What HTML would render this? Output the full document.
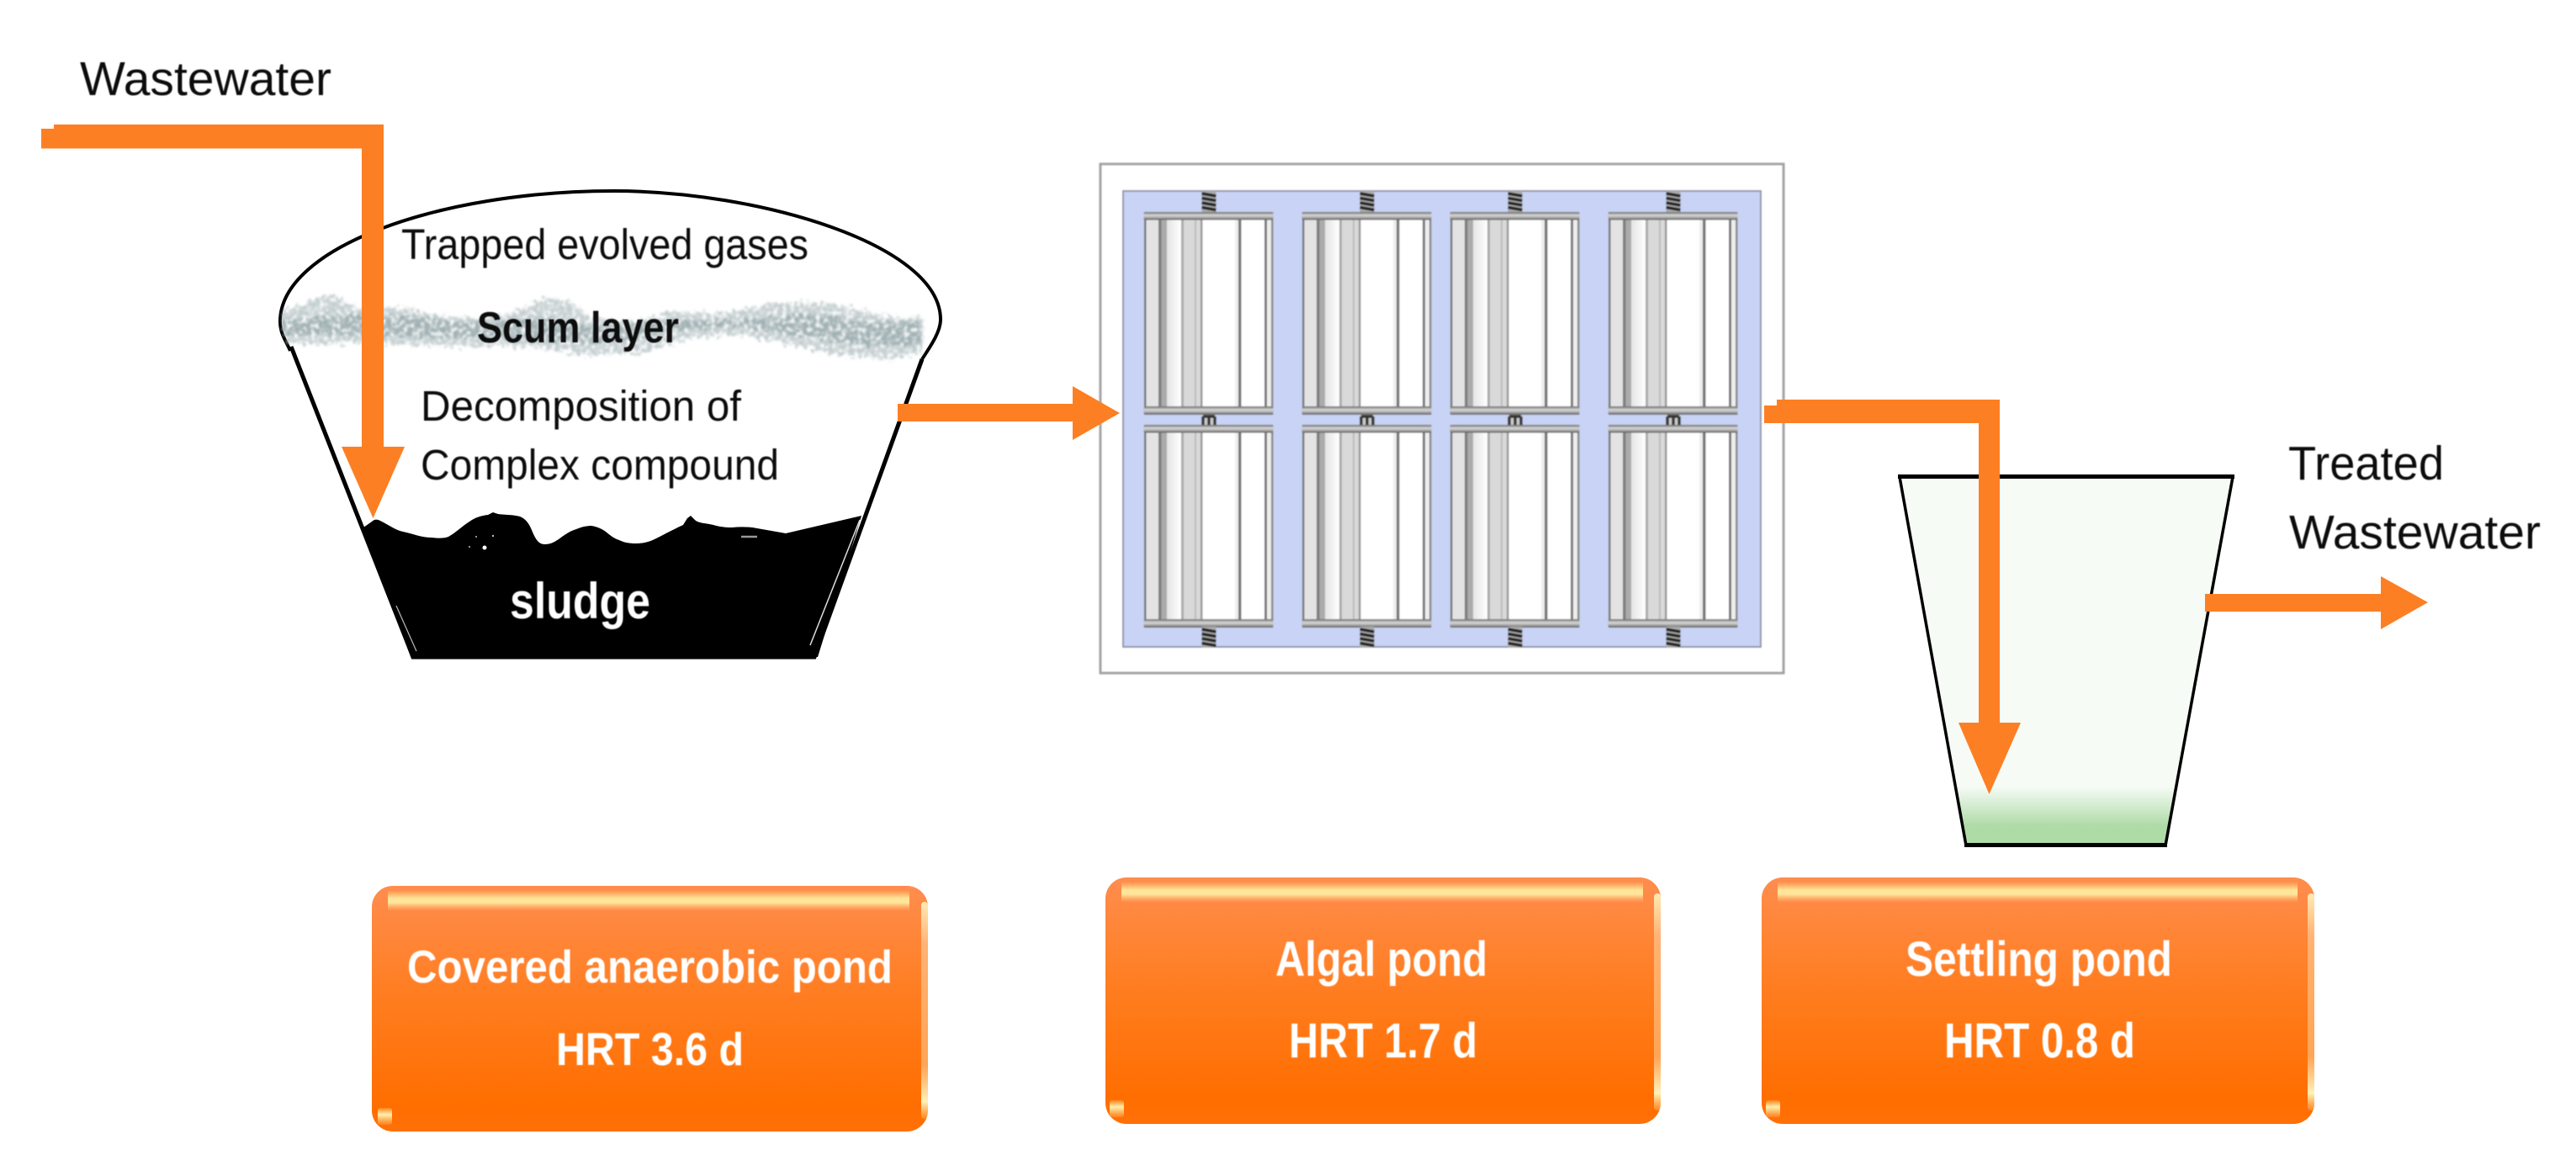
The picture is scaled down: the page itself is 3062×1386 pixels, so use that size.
<!DOCTYPE html>
<html><head><meta charset="utf-8"><style>
html,body{margin:0;padding:0;background:#fff;width:3062px;height:1386px;overflow:hidden}
svg{display:block}
text{font-family:"Liberation Sans",sans-serif;fill:#111}
.b{font-weight:bold}
.w{fill:#fff;font-weight:bold}
</style></head><body>
<svg width="3062" height="1386" viewBox="0 0 3062 1386" xmlns="http://www.w3.org/2000/svg">
<defs>
<linearGradient id="bx" x1="0" y1="0" x2="0" y2="1"><stop offset="0" stop-color="#ff8d4e"/><stop offset=".45" stop-color="#ff7d20"/><stop offset=".9" stop-color="#ff6e00"/><stop offset="1" stop-color="#ff7008"/></linearGradient>
<linearGradient id="hl" x1="0" y1="0" x2="0" y2="1"><stop offset="0" stop-color="#ffe08a" stop-opacity="0"/><stop offset=".4" stop-color="#ffe59a"/><stop offset=".6" stop-color="#ffe59a"/><stop offset="1" stop-color="#ffc080" stop-opacity="0"/></linearGradient>
<linearGradient id="hr" x1="0" y1="0" x2="0" y2="1"><stop offset="0" stop-color="#fff0b8" stop-opacity=".95"/><stop offset=".2" stop-color="#ffe0b0" stop-opacity=".5"/><stop offset=".75" stop-color="#ffe0b0" stop-opacity=".45"/><stop offset=".92" stop-color="#fff2b8" stop-opacity="1"/><stop offset="1" stop-color="#ffe7a0" stop-opacity=".2"/></linearGradient>
<linearGradient id="hb" x1="0" y1="0" x2="0" y2="1"><stop offset="0" stop-color="#ffeea8" stop-opacity=".2"/><stop offset=".4" stop-color="#fff2b0"/><stop offset="1" stop-color="#ffd080" stop-opacity=".2"/></linearGradient>
<linearGradient id="gr" gradientUnits="userSpaceOnUse" x1="0" y1="935" x2="0" y2="982"><stop offset="0" stop-color="#f6fbf6"/><stop offset="1" stop-color="#afdba7"/></linearGradient>
<linearGradient id="bar" x1="0" y1="0" x2="0" y2="1"><stop offset="0" stop-color="#666"/><stop offset=".4" stop-color="#d8d8d8"/><stop offset=".7" stop-color="#aaa"/><stop offset="1" stop-color="#555"/></linearGradient>
<linearGradient id="fd" x1="0" y1="0" x2="1" y2="0"><stop offset="0" stop-color="#e4e4e4"/><stop offset="1" stop-color="#fff"/></linearGradient>
<filter id="sc" x="-5%" y="-30%" width="110%" height="160%">
<feTurbulence type="fractalNoise" baseFrequency="0.2" numOctaves="3" seed="4" result="n"/>
<feDisplacementMap in="SourceGraphic" in2="n" scale="18" xChannelSelector="R" yChannelSelector="G" result="d"/>
<feColorMatrix in="n" type="matrix" values="0 0 0 0 0  0 0 0 0 0  0 0 0 0 0  3.2 0 0 0 -0.8" result="a"/>
<feComposite in="d" in2="a" operator="in" result="c"/>
<feGaussianBlur in="c" stdDeviation="1.3"/>
</filter>
<filter id="soft" x="-2%" y="-2%" width="104%" height="104%"><feGaussianBlur stdDeviation="0.8"/></filter>
<filter id="st" x="-5%" y="-20%" width="110%" height="140%"><feGaussianBlur stdDeviation="0.6"/></filter>
<g id="coil"><rect x="-8.5" y="0" width="17" height="25" fill="#aaa"/>
<path d="M-8.500,3 L8.500,6 M-8.500,8.500 L8.500,11.500 M-8.500,14 L8.500,17 M-8.500,19.500 L8.500,22.500" stroke="#222" stroke-width="3.500"/></g>
<g id="mid"><rect x="-8.5" y="0" width="17" height="12" fill="#ccc"/><path d="M-7,2 L7,2 M-7,2 V12 M0,2 V12 M7,2 V12" stroke="#333" stroke-width="3.500" fill="none"/></g>
<g id="u">
<rect x="0" y="0" width="153" height="241" fill="#fff"/>
<rect x="1" y="0" width="16" height="241" fill="#e3e3e3"/>
<rect x="27" y="0" width="17" height="241" fill="url(#fd)"/>
<rect x="17" y="0" width="3.5" height="241" fill="#808080"/>
<rect x="20.5" y="0" width="6.5" height="241" fill="#ababab"/>
<rect x="44" y="0" width="3" height="241" fill="#aaa"/>
<rect x="47" y="0" width="21" height="241" fill="#d9d9d9"/>
<rect x="60" y="0" width="2" height="241" fill="#bbb"/>
<rect x="67" y="0" width="2.5" height="241" fill="#999"/>
<rect x="108" y="0" width="4" height="241" fill="#eee"/>
<rect x="112" y="0" width="3.5" height="241" fill="#777"/>
<rect x="143" y="0" width="3" height="241" fill="#777"/>
<rect x="146" y="0" width="6" height="241" fill="#eee"/>
<rect x="0" y="0" width="2.5" height="241" fill="#777"/>
<rect x="151" y="0" width="2.5" height="241" fill="#888"/>
<rect x="-0.5" y="0" width="154" height="9.500" rx="2" fill="url(#bar)"/>
<rect x="-0.5" y="231" width="154" height="10" rx="2" fill="url(#bar)"/>
</g>
</defs>
<rect width="3062" height="1386" fill="#fff"/>

<!-- anaerobic pond -->
<path d="M432,627 L442,620 C445,617 448,617 452,619 C462,624 470,630 479,632 C490,634 500,639 513,639 C522,640 528,640 533,638 C542,633 550,625 558,620 C565,615 572,613 580,612 L586,609 L592,611 C600,612 612,612 618,614 C626,617 630,625 632,630 C636,640 640,647 647,647 C654,647 658,645 664,641 C672,635 678,631 685,629 C692,626 698,625 703,625 C710,626 716,629 720,632 C726,637 730,640 736,642 C742,645 748,646 756,646 C765,646 772,644 780,640 C792,634 803,628 812,624 L817,616 L821,613 L826,618 C830,622 840,622 848,624 C855,626 862,627 870,627 C880,626 890,626 900,628 L934,634 L1024,613 L972,781 L489,783 Z" fill="#000"/>
<path d="M1022,618 L963,767" stroke="#ddd" stroke-width="1.500" fill="none"/>
<path d="M471,720 L495,774" stroke="#bbb" stroke-width="1.200" fill="none"/>
<path d="M881,638 H900" stroke="#999" stroke-width="2.500" fill="none"/>
<circle cx="576" cy="651" r="2.500" fill="#fff"/><circle cx="586" cy="637" r="1.200" fill="#bbb"/><circle cx="566" cy="638" r="1" fill="#bbb"/><circle cx="558" cy="650" r="1" fill="#bbb"/>
<path d="M345,417 C340,405 333,397 333,382 C333,295 520,227 730,227 C900,227 1118,290 1118,380 C1118,395 1105,413 1096,427" fill="none" stroke="#000" stroke-width="4"/>
<path d="M346,412 L491,781 L968,781 L1096,427" fill="none" stroke="#000" stroke-width="5"/>
<g filter="url(#sc)" fill="#93a5aa">
<path opacity=".55" d="M333,372 L375,355 L395,350 L425,366 L480,366 L530,376 L570,378 L610,372 L650,353 L680,360 L700,376 L760,383 L800,370 L860,373 L920,360 L980,360 L1030,370 L1065,378 L1097,376 L1097,420 L1060,427 L1000,422 L950,412 L880,397 L820,402 L760,420 L700,422 L640,414 L600,410 L540,412 L480,410 L425,407 L380,410 L340,407 Z"/>
<path opacity=".75" d="M335,382 L400,375 L480,375 L560,384 L640,378 L720,390 L800,380 L880,382 L960,372 L1040,384 L1096,382 L1096,412 L1040,412 L960,400 L880,388 L800,392 L720,408 L640,404 L560,402 L480,400 L400,398 L340,398 Z"/>
</g>

<g filter="url(#st)">
<text x="95" y="113" font-size="57" textLength="299" lengthAdjust="spacingAndGlyphs">Wastewater</text>
<text x="477" y="308" font-size="51" textLength="484" lengthAdjust="spacingAndGlyphs">Trapped evolved gases</text>
<text x="567" y="407" font-size="52" class="b" textLength="240" lengthAdjust="spacingAndGlyphs">Scum layer</text>
<text x="500" y="500" font-size="51" textLength="381" lengthAdjust="spacingAndGlyphs">Decomposition of</text>
<text x="500" y="570" font-size="51" textLength="426" lengthAdjust="spacingAndGlyphs">Complex compound</text>
<text x="606" y="735" font-size="60" class="w" textLength="167" lengthAdjust="spacingAndGlyphs">sludge</text>
</g>

<!-- algal pond -->
<g filter="url(#soft)">
<rect x="1308" y="195" width="812" height="605" fill="#fff" stroke="#a0a0a0" stroke-width="3"/>
<rect x="1335" y="227" width="758" height="542" fill="#c8d3f5" stroke="#8d93a5" stroke-width="2"/>
<use href="#u" x="1360" y="252"/><use href="#u" x="1548" y="252"/><use href="#u" x="1724" y="252"/><use href="#u" x="1912" y="252"/>
<use href="#u" x="1360" y="505"/><use href="#u" x="1548" y="505"/><use href="#u" x="1724" y="505"/><use href="#u" x="1912" y="505"/>
<use href="#coil" x="1437" y="227"/><use href="#coil" x="1625" y="227"/><use href="#coil" x="1801" y="227"/><use href="#coil" x="1989" y="227"/>
<use href="#mid" x="1437" y="493"/><use href="#mid" x="1625" y="493"/><use href="#mid" x="1801" y="493"/><use href="#mid" x="1989" y="493"/>
<use href="#coil" x="1437" y="745"/><use href="#coil" x="1625" y="745"/><use href="#coil" x="1801" y="745"/><use href="#coil" x="1989" y="745"/>
</g>

<!-- settling pond -->
<path d="M2258,567 L2654,567 L2574,1005 L2337,1005 Z" fill="url(#gr)"/>
<path d="M2258,567 L2337,1005 L2574,1005 L2654,567" fill="none" stroke="#000" stroke-width="3.5"/>
<rect x="2256" y="564" width="400" height="5" fill="#000"/>
<rect x="2335" y="1002" width="241" height="5" fill="#000"/>
<g filter="url(#st)">
<text x="2720" y="570" font-size="57" textLength="185" lengthAdjust="spacingAndGlyphs">Treated</text>
<text x="2721" y="652" font-size="57" textLength="299" lengthAdjust="spacingAndGlyphs">Wastewater</text>
</g>

<!-- arrows -->
<g fill="#fd7f23">
<path d="M49,153 H64 V148 H456 V531 H481 L443.5,616 L406,531 H430 V176.500 H49 Z"/>
<path d="M1067,480 H1275 V459 L1331,491 L1275,523 V501 H1067 Z"/>
<path d="M2097,482 H2112 V475 H2377 V859 H2402 L2364.500,944 L2328,859 H2352 V503 H2097 Z"/>
<path d="M2621,706 H2830 V685 L2886,716 L2830,748 V727 H2621 Z"/>
</g>

<!-- boxes -->
<g>
<rect x="442" y="1053" width="661" height="292" rx="25" fill="url(#bx)"/>
<rect x="461" y="1058" width="620" height="25" fill="url(#hl)"/>
<rect x="1095" y="1072" width="8" height="258" rx="4" fill="url(#hr)"/>
<rect x="449" y="1317" width="17" height="20" rx="3" fill="url(#hb)"/>
<g filter="url(#st)">
<text x="484" y="1168" font-size="55" class="w" textLength="577" lengthAdjust="spacingAndGlyphs">Covered anaerobic pond</text>
<text x="661" y="1266" font-size="55" class="w" textLength="223" lengthAdjust="spacingAndGlyphs">HRT 3.6 d</text>
</g>
</g>
<g>
<rect x="1314" y="1043" width="660" height="293" rx="25" fill="url(#bx)"/>
<rect x="1333" y="1048" width="620" height="25" fill="url(#hl)"/>
<rect x="1966" y="1062" width="8" height="258" rx="4" fill="url(#hr)"/>
<rect x="1319" y="1308" width="17" height="20" rx="3" fill="url(#hb)"/>
<g filter="url(#st)">
<text x="1516" y="1160" font-size="58" class="w" textLength="252" lengthAdjust="spacingAndGlyphs">Algal pond</text>
<text x="1532" y="1257" font-size="58" class="w" textLength="224" lengthAdjust="spacingAndGlyphs">HRT 1.7 d</text>
</g>
</g>
<g>
<rect x="2094" y="1043" width="657" height="293" rx="25" fill="url(#bx)"/>
<rect x="2113" y="1048" width="618" height="25" fill="url(#hl)"/>
<rect x="2743" y="1062" width="8" height="258" rx="4" fill="url(#hr)"/>
<rect x="2099" y="1308" width="17" height="20" rx="3" fill="url(#hb)"/>
<g filter="url(#st)">
<text x="2265" y="1160" font-size="58" class="w" textLength="317" lengthAdjust="spacingAndGlyphs">Settling pond</text>
<text x="2311" y="1257" font-size="58" class="w" textLength="227" lengthAdjust="spacingAndGlyphs">HRT 0.8 d</text>
</g>
</g>
</svg>
</body></html>
